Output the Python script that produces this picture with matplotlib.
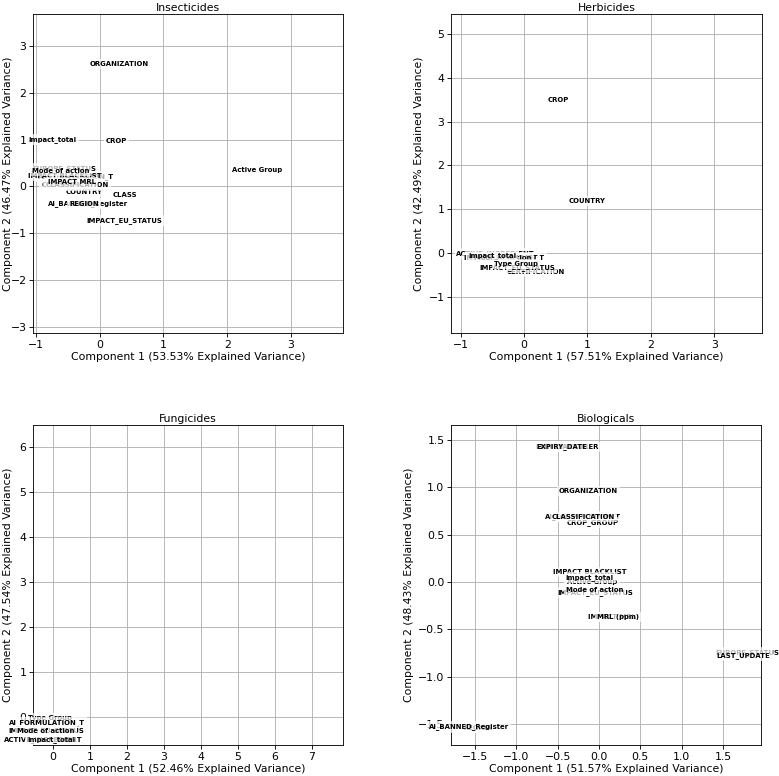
import matplotlib
matplotlib.use("Agg")
import matplotlib.pyplot as plt

# explained variance per panel (component 1, component 2)
titles = ["Insecticides", "Herbicides", "Fungicides", "Biologicals"]
var_pc1 = [53.53, 57.51, 52.46, 51.57]
var_pc2 = [46.47, 42.49, 47.54, 48.43]

# loadings, listed in drawing order (later labels sit on top)
ins_names = ["EUROPE_STATUS", "Type Group", "COUNTRY", "CERTIFICATION", "AI_FORMULATION_T",
             "IMPACT BLACKLIST", "Mode of action", "CLASSIFICATION", "IMPACT MRL",
             "AI_BANNED_Register", "REGION", "CLASS", "IMPACT_EU_STATUS",
             "impact_total", "CROP", "Active Group", "ORGANIZATION"]
ins_x = [-0.56, -0.73, -0.25, -0.46, -0.38, -0.55, -0.62, -0.36, -0.44,
         -0.19, -0.25, 0.39, 0.39, -0.74, 0.26, 2.47, 0.31]
ins_y = [0.38, 0.26, -0.11, 0.04, 0.21, 0.23, 0.32, 0.02, 0.09,
         -0.36, -0.37, -0.19, -0.72, 1.0, 0.96, 0.34, 2.62]

herb_names = ["ACTIVE_INGREDIENT", "AI_FORMULATION_T", "IMPACT BLACKLIST", "Mode of action",
              "impact_total", "CERTIFICATION", "IMPACT_EU_STATUS", "Type Group",
              "COUNTRY", "CROP"]
herb_x = [-0.45, -0.27, -0.36, -0.33, -0.5, 0.18, -0.11, -0.13, 1.0, 0.54]
herb_y = [0.0, -0.11, -0.11, -0.11, -0.05, -0.43, -0.32, -0.25, 1.18, 3.5]

fung_names = ["Type Group", "AI_FORMULATION_T", "IMPACT_EU_STATUS", "Mode of action",
              "ACTIVE_INGREDIENT", "impact_total"]
fung_x = [-0.08, -0.16, -0.19, -0.19, -0.27, -0.05]
fung_y = [-0.02, -0.13, -0.29, -0.31, -0.49, -0.49]

bio_names = ["MANUFACTURER", "EXPIRY_DATE", "ORGANIZATION", "AI_FORMULATION_T", "CROP_GROUP",
             "CLASSIFICATION", "IMPACT BLACKLIST", "Active Group", "impact_total",
             "IMPACT_EU_STATUS", "Mode of action", "IMPACT MRL", "MRL (ppm)",
             "EUROPE_STATUS", "LAST_UPDATE", "REGION", "AI_BANNED_Register"]
bio_x = [-0.39, -0.45, -0.13, -0.19, -0.08, -0.19, -0.11, -0.08, -0.11,
         -0.05, -0.05, 0.16, 0.23, 1.79, 1.75, -1.46, -1.57]
bio_y = [1.43, 1.43, 0.96, 0.69, 0.63, 0.69, 0.11, 0.0, 0.05,
         -0.11, -0.08, -0.37, -0.37, -0.74, -0.77, -1.54, -1.53]

# axis limits
xlims = [(-1.05, 3.82), (-1.15, 3.75), (-0.54, 7.84), (-1.79, 1.96)]
ylims = [(-3.13, 3.68), (-1.82, 5.45), (-0.62, 6.49), (-1.72, 1.66)]

panels = [(ins_names, ins_x, ins_y), (herb_names, herb_x, herb_y),
          (fung_names, fung_x, fung_y), (bio_names, bio_x, bio_y)]

W, H = 779, 776
fig = plt.figure(figsize=(W / 78, H / 78), dpi=78)

# axes boxes in pixels: left, top, right, bottom
boxes = [(33, 14, 343, 333), (451, 14, 762, 333),
         (33, 425, 343, 745), (451, 425, 761, 745)]

for i, (names, xs, ys) in enumerate(panels):
    l, t, r, b = boxes[i]
    ax = fig.add_axes([l / W, 1 - b / H, (r - l) / W, (b - t) / H])
    for name, x, y in zip(names, xs, ys):
        ax.text(x, y, name, ha='center', va='center', fontsize=6.4, fontweight='bold',
                bbox=dict(boxstyle='square,pad=0.3', facecolor='white', alpha=0.7,
                          edgecolor='none'))
    ax.set_xlim(*xlims[i])
    ax.set_ylim(*ylims[i])
    ax.grid(True)
    ax.set_title(titles[i], fontsize=10, pad=3)
    ax.set_xlabel('Component 1 (%.2f%% Explained Variance)' % var_pc1[i], labelpad=2)
    ax.set_ylabel('Component 2 (%.2f%% Explained Variance)' % var_pc2[i])
    if i % 2 == 0:
        # left column label sits closer to the spine in the reference
        ax.yaxis.set_label_coords(-0.065, 0.5)
    ax.tick_params(pad=2.5)

fig.savefig('out.png', dpi=78)
